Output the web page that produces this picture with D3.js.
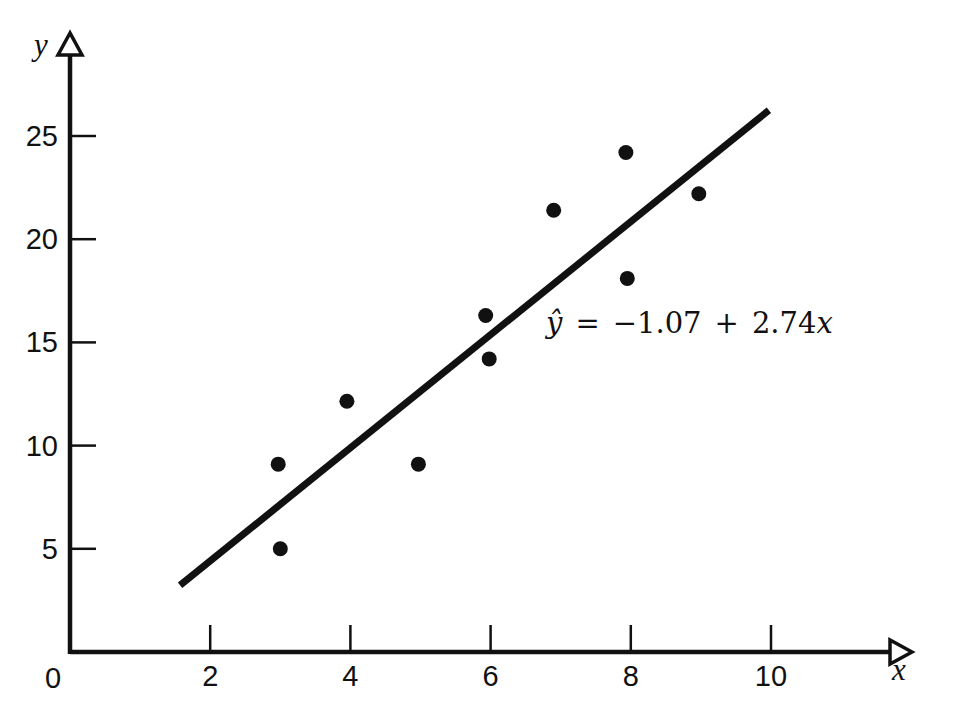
<!DOCTYPE html>
<html>
    <head>
        <meta charset="utf-8">
        <title>Regression scatter</title>
        <script src="https://d3js.org/d3.v7.min.js"></script>
        <style>
            body { margin: 0; background: #fff; }
            .tick-label { font-family: "Liberation Sans", Arial, sans-serif; font-size: 29px; fill: #111; }
            .axis-name { font-family: "Liberation Serif", serif; font-style: italic; font-size: 31px; fill: #111; }
            .eq { font-family: "DejaVu Serif", serif; font-size: 29px; fill: #111; }
        </style>
    </head>
    <body>
        <svg width="961" height="703"></svg>
        <script>
        // data
        var xValues = [2.97, 3.0, 3.95, 4.97, 5.93, 5.98, 6.9, 7.93, 7.95, 8.97];
        var yValues = [9.1, 5.0, 12.15, 9.1, 16.3, 14.2, 21.4, 24.2, 18.1, 22.2];
        var xTicks = [2, 4, 6, 8, 10];
        var yTicks = [5, 10, 15, 20, 25];
        var intercept = -1.07, slope = 2.74;
        var lineFrom = 1.57, lineTo = 9.97;

        var svg = d3.select("svg");

        var x = d3.scaleLinear().domain([0, 10]).range([70, 771]);
        var y = d3.scaleLinear().domain([0, 25]).range([652, 136]);

        var data = xValues.map(function(d, i) { return {x: d, y: yValues[i]}; });

        // axes
        var ax = svg.append("g").attr("stroke", "#111").attr("fill", "none");
        ax.append("line")
            .attr("x1", x(0)).attr("x2", 890)
            .attr("y1", y(0)).attr("y2", y(0))
            .attr("stroke-width", 4.5);
        ax.append("line")
            .attr("x1", x(0)).attr("x2", x(0))
            .attr("y1", y(0) + 2).attr("y2", 55)
            .attr("stroke-width", 4.5);

        // arrow heads (open triangles)
        ax.append("path")
            .attr("d", "M" + x(0) + ",33 L" + (x(0) - 12) + ",55 L" + (x(0) + 12) + ",55 Z")
            .attr("fill", "#fff").attr("stroke-width", 3.5).attr("stroke-linejoin", "miter");
        ax.append("path")
            .attr("d", "M912," + y(0) + " L890," + (y(0) - 12) + " L890," + (y(0) + 12) + " Z")
            .attr("fill", "#fff").attr("stroke-width", 3.5).attr("stroke-linejoin", "miter");

        // inward ticks
        ax.selectAll(".xt").data(xTicks).enter().append("line")
            .attr("x1", function(d) { return x(d); }).attr("x2", function(d) { return x(d); })
            .attr("y1", y(0)).attr("y2", y(0) - 27)
            .attr("stroke-width", 2.5);
        ax.selectAll(".yt").data(yTicks).enter().append("line")
            .attr("x1", x(0)).attr("x2", x(0) + 26)
            .attr("y1", function(d) { return y(d); }).attr("y2", function(d) { return y(d); })
            .attr("stroke-width", 2.5);

        // tick labels
        svg.selectAll(".xl").data(xTicks).enter().append("text")
            .attr("class", "tick-label")
            .attr("x", function(d) { return x(d); })
            .attr("y", 686)
            .attr("text-anchor", "middle")
            .text(function(d) { return d; });
        svg.selectAll(".yl").data(yTicks).enter().append("text")
            .attr("class", "tick-label")
            .attr("x", 58)
            .attr("y", function(d) { return y(d) + 10; })
            .attr("text-anchor", "end")
            .text(function(d) { return d; });
        svg.append("text").attr("class", "tick-label")
            .attr("x", 53).attr("y", 688).attr("text-anchor", "middle").text("0");

        // axis names
        svg.append("text").attr("class", "axis-name").attr("x", 41).attr("y", 55)
            .attr("text-anchor", "middle").text("y");
        svg.append("text").attr("class", "axis-name").attr("x", 899).attr("y", 680)
            .attr("text-anchor", "middle").text("x");

        // fitted line
        svg.append("line")
            .attr("x1", x(lineFrom)).attr("y1", y(intercept + slope * lineFrom))
            .attr("x2", x(lineTo)).attr("y2", y(intercept + slope * lineTo))
            .attr("stroke", "#111").attr("stroke-width", 7);

        // points
        svg.selectAll(".pt").data(data).enter().append("circle")
            .attr("cx", function(d) { return x(d.x); })
            .attr("cy", function(d) { return y(d.y); })
            .attr("r", 7.5)
            .attr("fill", "#111");

        // equation
        var eq = svg.append("text").attr("class", "eq").attr("x", 546).attr("y", 333);
        eq.append("tspan").attr("font-style", "italic").text("\u0177");
        eq.append("tspan").attr("dx", 13).text("=");
        eq.append("tspan").attr("dx", 13).text("\u22121.07");
        eq.append("tspan").attr("dx", 13).text("+");
        eq.append("tspan").attr("dx", 13).text("2.74");
        eq.append("tspan").attr("font-style", "italic").text("x");
        </script>
    </body>
</html>
